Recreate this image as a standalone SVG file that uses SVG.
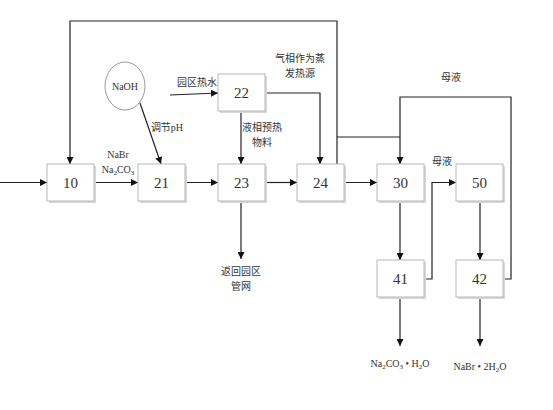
<svg xmlns="http://www.w3.org/2000/svg" width="553" height="410" viewBox="0 0 553 410">
<style>
.box{fill:#fff;stroke:#b8b8b8;stroke-width:1}
.sh{fill:#d8d8d8}
.num{font-family:"Liberation Serif","Noto Sans CJK SC",serif;font-size:15px;fill:#333;text-anchor:middle}
.lbl{font-family:"Liberation Serif","Noto Sans CJK SC",serif;font-size:10px;fill:#333;text-anchor:middle}
.ln{fill:none;stroke:#222;stroke-width:1.2}
</style>
<defs>
<marker id="ar" viewBox="0 0 10 10" refX="10" refY="5" markerWidth="7" markerHeight="7" orient="auto" markerUnits="userSpaceOnUse">
<path d="M0,0 L10,5 L0,10 z" fill="#111"/>
</marker>
</defs>
<rect width="553" height="410" fill="#fff"/>
<g id="connectors">
<line class="ln" x1="0" y1="182.5" x2="47" y2="182.5" marker-end="url(#ar)"/>
<line class="ln" x1="94" y1="182.5" x2="138" y2="182.5" marker-end="url(#ar)"/>
<line class="ln" x1="185" y1="182.5" x2="218" y2="182.5" marker-end="url(#ar)"/>
<line class="ln" x1="265" y1="182.5" x2="297" y2="182.5" marker-end="url(#ar)"/>
<line class="ln" x1="344" y1="182.5" x2="377" y2="182.5" marker-end="url(#ar)"/>
<polyline class="ln" points="337,164 337,21 70,21 70,164" marker-end="url(#ar)"/>
<line class="ln" x1="337" y1="137" x2="400" y2="137"/>
<polyline class="ln" points="503,279 511,279 511,97 400,97 400,164" marker-end="url(#ar)"/>
<line class="ln" x1="140" y1="103" x2="161" y2="164" marker-end="url(#ar)"/>
<line class="ln" x1="170" y1="95" x2="218" y2="93" marker-end="url(#ar)"/>
<polyline class="ln" points="265,93 320,93 320,164" marker-end="url(#ar)"/>
<line class="ln" x1="241" y1="111" x2="241" y2="164" marker-end="url(#ar)"/>
<line class="ln" x1="241" y1="201" x2="241" y2="259" marker-end="url(#ar)"/>
<line class="ln" x1="400" y1="201" x2="400" y2="260" marker-end="url(#ar)"/>
<polyline class="ln" points="424,279 432,279 432,182.5 456,182.5" marker-end="url(#ar)"/>
<line class="ln" x1="480" y1="201" x2="480" y2="260" marker-end="url(#ar)"/>
<line class="ln" x1="400" y1="297" x2="400" y2="346" marker-end="url(#ar)"/>
<line class="ln" x1="480" y1="297" x2="480" y2="346" marker-end="url(#ar)"/>
</g>
<g id="labels">
<text class="lbl" x="118" y="158">NaBr</text>
<text class="lbl" x="118" y="173">Na<tspan font-size="7" dy="2">2</tspan><tspan dy="-2">CO</tspan><tspan font-size="7" dy="2">3</tspan></text>
<text class="lbl" x="167" y="131">调节pH</text>
<text class="lbl" x="197" y="86">园区热水</text>
<text class="lbl" x="300" y="62">气相作为蒸</text>
<text class="lbl" x="300" y="77">发热源</text>
<text class="lbl" x="262" y="131">液相预热</text>
<text class="lbl" x="262" y="146">物料</text>
<text class="lbl" x="241" y="275">返回园区</text>
<text class="lbl" x="241" y="290">管网</text>
<text class="lbl" x="451" y="81">母液</text>
<text class="lbl" x="442" y="165">母液</text>
<text class="lbl" x="400" y="367">Na<tspan font-size="7" dy="2">2</tspan><tspan dy="-2">CO</tspan><tspan font-size="7" dy="2">3</tspan><tspan dy="-2"> • H</tspan><tspan font-size="7" dy="2">2</tspan><tspan dy="-2">O</tspan></text>
<text class="lbl" x="480" y="370">NaBr • 2H<tspan font-size="7" dy="2">2</tspan><tspan dy="-2">O</tspan></text>
</g>
<g id="naoh">
<ellipse cx="125" cy="86" rx="20" ry="24" fill="#fff" stroke="#999" stroke-width="1"/>
<text class="lbl" x="125" y="90">NaOH</text>
</g>
<g id="n10"><rect class="sh" x="49" y="166" width="47" height="37"/><rect class="box" x="47" y="164" width="47" height="37"/><text class="num" x="70.5" y="188">10</text></g>
<g id="n21"><rect class="sh" x="140" y="166" width="47" height="37"/><rect class="box" x="138" y="164" width="47" height="37"/><text class="num" x="161.5" y="188">21</text></g>
<g id="n22"><rect class="sh" x="220" y="76" width="47" height="37"/><rect class="box" x="218" y="74" width="47" height="37"/><text class="num" x="241.5" y="98">22</text></g>
<g id="n23"><rect class="sh" x="220" y="166" width="47" height="37"/><rect class="box" x="218" y="164" width="47" height="37"/><text class="num" x="241.5" y="188">23</text></g>
<g id="n24"><rect class="sh" x="299" y="166" width="47" height="37"/><rect class="box" x="297" y="164" width="47" height="37"/><text class="num" x="320.5" y="188">24</text></g>
<g id="n30"><rect class="sh" x="379" y="166" width="47" height="37"/><rect class="box" x="377" y="164" width="47" height="37"/><text class="num" x="400.5" y="188">30</text></g>
<g id="n50"><rect class="sh" x="458" y="166" width="47" height="37"/><rect class="box" x="456" y="164" width="47" height="37"/><text class="num" x="479.5" y="188">50</text></g>
<g id="n41"><rect class="sh" x="379" y="262" width="47" height="37"/><rect class="box" x="377" y="260" width="47" height="37"/><text class="num" x="400.5" y="284">41</text></g>
<g id="n42"><rect class="sh" x="458" y="262" width="47" height="37"/><rect class="box" x="456" y="260" width="47" height="37"/><text class="num" x="479.5" y="284">42</text></g>
</svg>
